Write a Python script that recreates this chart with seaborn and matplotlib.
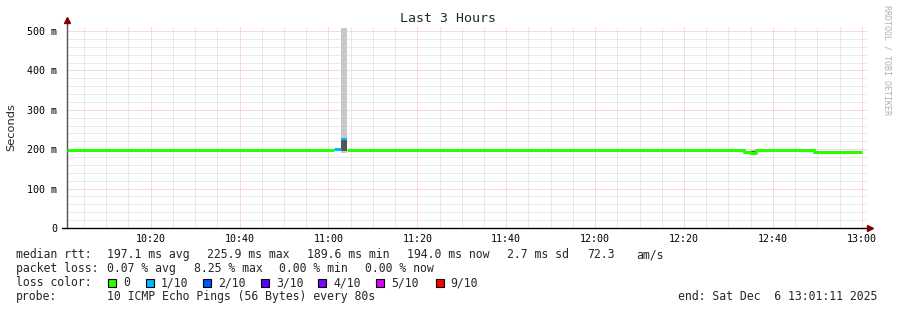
import matplotlib
matplotlib.use("Agg")
import matplotlib.pyplot as plt
import seaborn as sns
import pandas as pd

# ---------------- data ----------------
day = "2025-12-06 "
start_time = "10:01:11"
end_time = "13:01:11"

# median rtt (ms), step-wise, with loss class (0 = no loss, 1 = 1/10)
median_times = ["10:01:11", "11:01:20", "11:02:45", "11:04:15", "12:33:30",
                "12:34:50", "12:36:10", "12:49:15", "13:00:00"]
median_ms = [197.5, 201.0, 225.9, 197.5, 194.0, 190.0, 198.5, 193.5, 193.5]
median_loss = [0, 1, 1, 0, 0, 0, 0, 0, 0]

# smoke (ping spread) per 80 s step: lowest / highest ping, and inner band
smoke_times = ["11:02:45", "12:34:50"]
smoke_end = ["11:04:15", "12:36:10"]
smoke_lo = [190.0, 190.0]
smoke_hi = [507.0, 197.0]
smoke_inner_lo = [195.0, 190.0]
smoke_inner_hi = [226.0, 196.0]

y_ticks = [0, 100, 200, 300, 400, 500]
y_tick_labels = ["0", "100 m", "200 m", "300 m", "400 m", "500 m"]
x_tick_labels = ["10:20", "10:40", "11:00", "11:20", "11:40", "12:00", "12:20", "12:40", "13:00"]

loss_labels = ["0", "1/10", "2/10", "3/10", "4/10", "5/10", "9/10"]
loss_colors = ["#26ff00", "#00b8ff", "#0059ff", "#5e00ff", "#7e00ff", "#dd00ff", "#ff0000"]

rtt_parts = ["median rtt:", "197.1 ms avg", "225.9 ms max", "189.6 ms min",
             "194.0 ms now", "2.7 ms sd", "72.3", "am/s"]
loss_parts = ["packet loss:", "0.07 % avg", "8.25 % max", "0.00 % min", "0.00 % now"]
probe_parts = ["probe:", "10 ICMP Echo Pings (56 Bytes) every 80s"]
end_line = "end: Sat Dec  6 13:01:11 2025"

# ---------------- figure ----------------
sns.set_theme(style="white")
plt.rcParams["font.family"] = ["DejaVu Sans Mono", "DejaVu Sans"]

W, H = 897, 310
fig = plt.figure(figsize=(W / 100, H / 100), dpi=100)
fig.patch.set_facecolor("white")
L, R, T, B = 67, 867, 26, 228
ax = fig.add_axes([L / W, 1 - B / H, (R - L) / W, (B - T) / H])
ax.set_facecolor("white")

to_dt = lambda s: pd.Timestamp(day + s)
t0, t1 = to_dt(start_time), to_dt(end_time)

GREY = "#d6d6d6"
RED = "#f6b4b4"
gls = (0, (1, 1))
glw = 0.72

# grids
minor_x = pd.date_range(to_dt("10:05:00"), to_dt("13:00:00"), freq="5min")
major_x = pd.date_range(to_dt("10:20:00"), to_dt("13:00:00"), freq="20min")
for t in minor_x:
    if t not in major_x:
        ax.axvline(t, color=GREY, lw=glw, ls=gls, zorder=0)
for t in major_x:
    ax.axvline(t, color=RED, lw=glw, ls=gls, zorder=0)
for v in range(20, 520, 20):
    if v % 100:
        ax.axhline(v, color=GREY, lw=glw, ls=gls, zorder=0)
for v in range(100, 600, 100):
    ax.axhline(v, color=RED, lw=glw, ls=gls, zorder=0)

# smoke
for ts, te, lo, hi, ilo, ihi in zip(smoke_times, smoke_end, smoke_lo, smoke_hi,
                                   smoke_inner_lo, smoke_inner_hi):
    ax.fill_between([to_dt(ts), to_dt(te)], [lo, lo], [hi, hi], color="#c8c8c8", lw=0, zorder=2)
    ax.fill_between([to_dt(ts), to_dt(te)], [ilo, ilo], [ihi, ihi], color="#555555", lw=0, zorder=2)

# median line: one horizontal step per sample, green connectors between loss-free steps
df = pd.DataFrame({"t": [to_dt(s) for s in median_times], "ms": median_ms, "loss": median_loss})
for i in range(len(df) - 1):
    col = loss_colors[df.loss[i]]
    lw = 2.2 if df.ms[i] < 224 else 1.5
    seg = pd.DataFrame({"t": [df.t[i], df.t[i + 1]], "ms": [df.ms[i], df.ms[i]]})
    sns.lineplot(data=seg, x="t", y="ms", estimator=None, sort=False,
                 color=col, lw=lw, ax=ax, zorder=4 if df.loss[i] else 3,
                 solid_capstyle="butt")
    if i + 1 < len(df) - 1 and df.loss[i] == 0 and df.loss[i + 1] == 0 and df.ms[i] != df.ms[i + 1]:
        con = pd.DataFrame({"t": [df.t[i + 1], df.t[i + 1]], "ms": [df.ms[i], df.ms[i + 1]]})
        sns.lineplot(data=con, x="t", y="ms", estimator=None, sort=False,
                     color=col, lw=2.2, ax=ax, zorder=3)

ax.set_xlim(t0, t1)
ax.set_ylim(0, 513)
ax.set_yticks(y_ticks)
ax.set_yticklabels(y_tick_labels)
ax.set_xticks([to_dt(s + ":00") for s in x_tick_labels])
ax.set_xticklabels(x_tick_labels)
ax.tick_params(axis="x", labelsize=7.2, colors="#000000", length=0, pad=4)
ax.tick_params(axis="y", labelsize=7.2, colors="#000000", length=0, pad=7)
ax.set_xlabel("")
ax.set_ylabel("")

for s in ["top", "right", "bottom"]:
    ax.spines[s].set_visible(False)
ax.spines["left"].set_color("#505050")
ax.spines["left"].set_linewidth(1.0)
ax.spines["left"].set_bounds(0, 520)
ax.plot([0], [528], marker="^", color="#800000", ms=4, clip_on=False,
        transform=ax.get_yaxis_transform(), zorder=6)
ax.plot([1.004], [0], marker=">", color="#800000", ms=4, clip_on=False,
        transform=ax.get_yaxis_transform(), zorder=6)
ax.plot([-0.006, 1.0], [0, 0], color="black", lw=1.0, clip_on=False,
        transform=ax.get_yaxis_transform(), zorder=5)

# titles / labels
fig.text(448 / W, 1 - 19 / H, "Last 3 Hours", ha="center", va="center", fontsize=9.5)
fig.text(11 / W, 1 - 127 / H, "Seconds", rotation=90, ha="center", va="center",
         fontsize=8.2, family="DejaVu Sans")
fig.text(887 / W, 1 - 60 / H, "RRDTOOL / TOBI OETIKER", rotation=270, ha="center",
         va="center", fontsize=6.0, color="#b0b0b0")

fs = 8.3
def put(xpx, ypx, s, size=fs):
    fig.text(xpx / W, 1 - ypx / H, s, ha="left", va="center", fontsize=size)

for xpx, s in zip([16, 107, 207, 307, 407, 507, 587, 636], rtt_parts):
    put(xpx, 254.5, s)
for xpx, s in zip([16, 107, 194, 279, 365], loss_parts):
    put(xpx, 268.5, s)
put(16, 282.5, "loss color:")
for xpx, s in zip([16, 107], probe_parts):
    put(xpx, 296.5, s)
put(678, 296.5, end_line)

# loss color legend boxes
box_x = [108, 146, 203, 261, 318, 376, 436]
lab_x = [123, 161, 218, 276, 333, 391, 450]
for bx, lx, lab, col in zip(box_x, lab_x, loss_labels, loss_colors):
    fig.patches.append(plt.Rectangle((bx / W, 1 - 286.5 / H), 8 / W, 8 / H,
                                     transform=fig.transFigure, facecolor=col,
                                     edgecolor="black", lw=0.8))
    put(lx, 282.5, lab)

fig.savefig("out.png", dpi=100, facecolor="white")
